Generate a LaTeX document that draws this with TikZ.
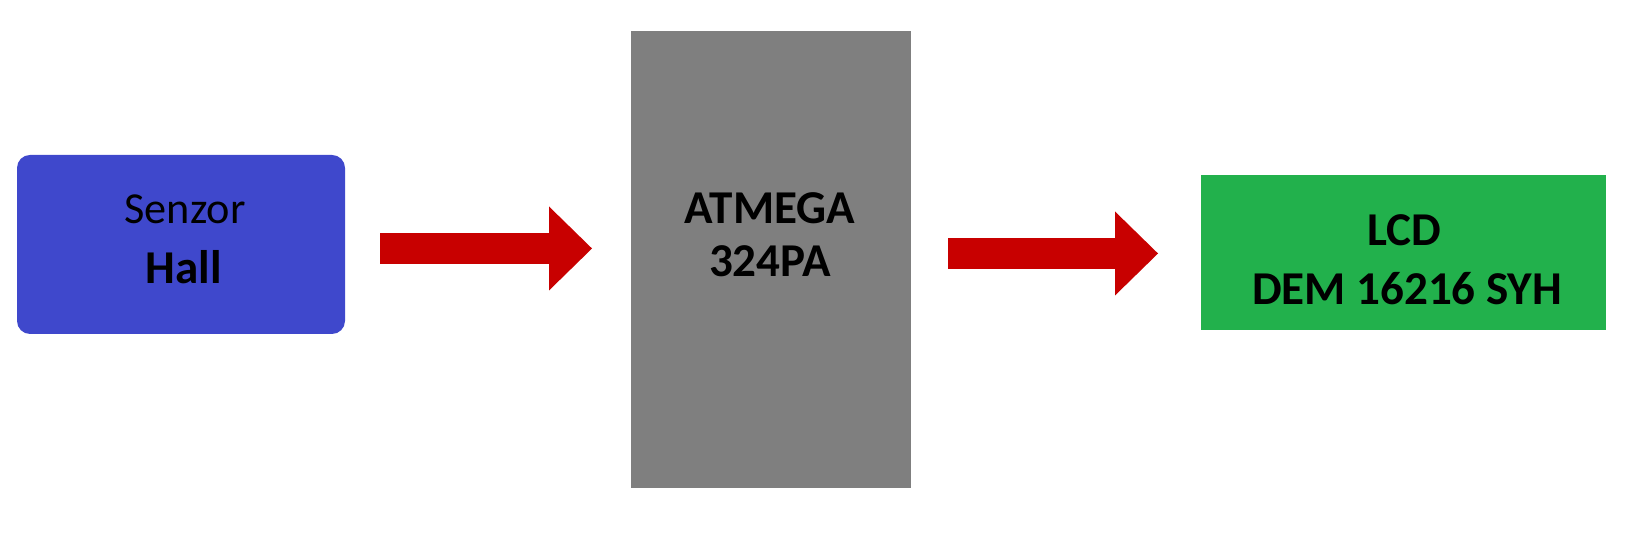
\documentclass[tikz,border=0pt]{standalone}
\usepackage{fontspec}
\setmainfont{Carlito}
\usetikzlibrary{arrows.meta}
\definecolor{senzorblue}{HTML}{3F48CC}
\definecolor{cpugray}{HTML}{7F7F7F}
\definecolor{lcdgreen}{HTML}{22B14C}
\definecolor{flowred}{HTML}{C80000}

\begin{document}
\begin{tikzpicture}[block/.style = {inner sep=0pt, outer sep=0pt},
    txt/.style = {anchor=base, inner sep=0pt, font=\fontsize{13.4pt}{15pt}\selectfont\bfseries},
    flow/.style = {flowred, line width=3.1mm, -{Triangle[length=4.3mm, width=8.4mm, line width=0pt]}}]
    \useasboundingbox (0,0) rectangle (16.32,5.44);

    \node[block, fill=senzorblue, rounded corners=1.3mm, minimum width=3.28cm, minimum height=1.79cm] (S) at (1.81,2.995) {};
    \node[block, fill=cpugray, minimum width=2.80cm, minimum height=4.57cm] (M) at (7.71,2.845) {};
    \node[block, fill=lcdgreen, minimum width=4.05cm, minimum height=1.55cm] (L) at (14.035,2.915) {};

    \node[txt, font=\fontsize{12.6pt}{14pt}\selectfont] (S1) at (1.85,3.20) {Senzor};
    \node[txt] (S2) at (1.84,2.60) {Hall};
    \node[txt] (M1) at (7.70,3.20) {ATMEGA};
    \node[txt] (M2) at (7.70,2.67) {324PA};
    \node[txt] (L1) at (14.04,2.98) {LCD};
    \node[txt] (L2) at (14.07,2.39) {DEM 16216 SYH};

    \draw[flow] ([xshift=3.5mm,yshift=-0.4mm]S.east) -- ([xshift=-3.9mm,yshift=-0.4mm]S.east -| M.west);
    \draw[flow] ([xshift=3.7mm,yshift=-0.1mm]L.west -| M.east) -- ([xshift=-4.3mm,yshift=-0.1mm]L.west);
\end{tikzpicture}
\end{document}
